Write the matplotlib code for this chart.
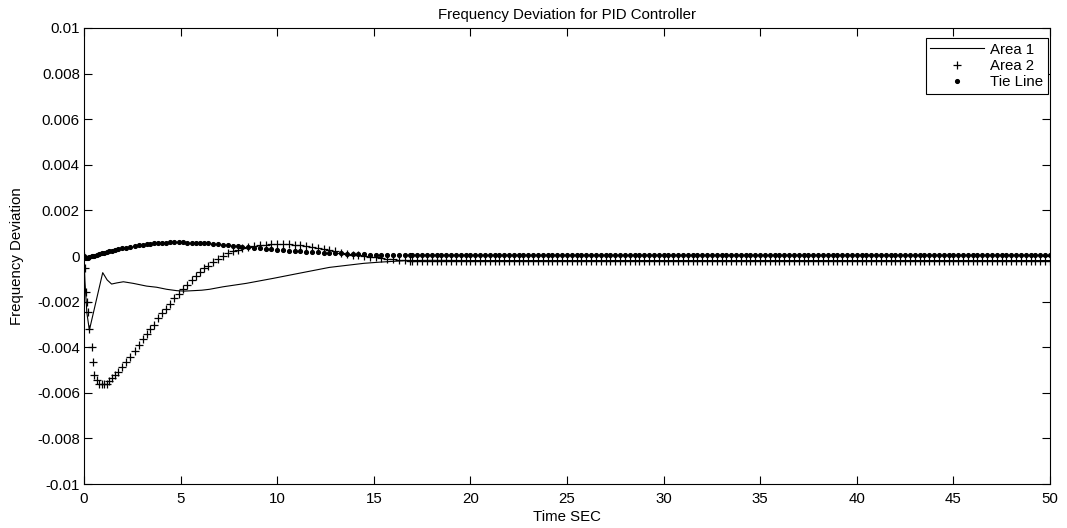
import numpy as np
import matplotlib
matplotlib.use("Agg")
import matplotlib.pyplot as plt

plt.rcParams['font.family'] = ['Liberation Sans', 'DejaVu Sans']
FS = 10.8

# Area 1 (solid line)
t_area1 = [0, 0.05, 0.15, 0.28, 0.97, 1.2, 1.43, 1.7, 2.04, 2.55, 3.24, 3.76,
           4.28, 4.8, 5.2, 5.66, 6.1, 6.5, 7.2, 8.4, 9.8, 11.0, 12.7, 14.5,
           15.3, 16.7, 18.0, 20.0, 25.0, 30.0, 35.0, 40.0, 45.0, 50.0]
v_area1 = [0, -0.0011, -0.0025, -0.00325, -0.00073, -0.00105, -0.00123, -0.00118,
           -0.00113, -0.0012, -0.00132, -0.00137, -0.00146, -0.00152, -0.00154,
           -0.00152, -0.0015, -0.00146, -0.00135, -0.0012, -0.00098, -0.00078,
           -0.0005, -0.00032, -0.00027, -0.0002, -0.00019, -0.0002, -0.0002,
           -0.0002, -0.0002, -0.0002, -0.0002, -0.0002]

# simulation samples shared by Area 2 and Tie Line markers
t_sim = [0.0, 0.05, 0.10, 0.15, 0.20, 0.28, 0.40, 0.45, 0.53, 0.66, 0.78, 0.91,
         1.04, 1.17, 1.31, 1.47, 1.60, 1.78, 1.95, 2.17, 2.38, 2.64, 2.86, 3.07,
         3.24, 3.42, 3.62, 3.85, 4.05, 4.24, 4.45, 4.68, 4.92, 5.14, 5.35, 5.57,
         5.80, 6.00, 6.21, 6.43, 6.70, 6.95, 7.20, 7.45, 7.70, 7.95, 8.20, 8.50,
         8.80, 9.10, 9.40, 9.70, 10.0, 10.3, 10.6, 10.9, 11.2, 11.5, 11.8, 12.1,
         12.4, 12.7, 13.0, 13.3, 13.6, 13.9, 14.2, 14.5, 14.8, 15.1, 15.4, 15.7,
         16.0, 16.3, 16.6, 16.9]
v_area2 = [0.0, -0.00054, -0.00157, -0.0020, -0.00244, -0.0032, -0.0040, -0.00466,
           -0.0052, -0.00544, -0.0056, -0.00561, -0.0056, -0.0056, -0.0055,
           -0.00537, -0.0052, -0.00507, -0.00485, -0.00463, -0.00444, -0.00415,
           -0.0039, -0.00366, -0.00342, -0.0032, -0.00303, -0.00273, -0.00251,
           -0.00234, -0.0021, -0.00186, -0.00167, -0.00146, -0.00127, -0.00105,
           -0.00086, -0.00069, -0.00054, -0.00044, -0.00028, -0.00012, 0.0,
           0.00012, 0.0002, 0.00028, 0.00034, 0.0004, 0.00044, 0.00048, 0.0005,
           0.00052, 0.00053, 0.00053, 0.00052, 0.0005, 0.00047, 0.00043, 0.00038,
           0.00034, 0.0003, 0.00025, 0.0002, 0.00015, 0.0001, 0.00006, 0.00003,
           0.0, -0.00003, -0.00006, -0.00009, -0.00012, -0.00014, -0.00016,
           -0.00018, -0.0002]
v_tie = [0.0, -0.00008, -0.0001, -0.0001, -0.00008, -0.00006, -0.00002, 0.0,
         0.00002, 0.00005, 0.00008, 0.00011, 0.00014, 0.00017, 0.0002, 0.00023,
         0.00026, 0.0003, 0.00033, 0.00037, 0.0004, 0.00044, 0.00047, 0.0005,
         0.00052, 0.00053, 0.00055, 0.00057, 0.00058, 0.00059, 0.0006, 0.0006,
         0.0006, 0.0006, 0.00059, 0.00059, 0.00058, 0.00057, 0.00056, 0.00055,
         0.00053, 0.00051, 0.00049, 0.00047, 0.00045, 0.00043, 0.00041, 0.00038,
         0.00035, 0.00033, 0.00031, 0.00029, 0.00027, 0.00025, 0.00023, 0.00021,
         0.0002, 0.00019, 0.00018, 0.00017, 0.00015, 0.00013, 0.00012, 0.00011,
         0.0001, 0.00009, 0.00008, 0.00007, 0.00006, 0.00006, 0.00005, 0.00005,
         0.00005, 0.00005, 0.00005, 0.00005]

# after ~17 s both settle to flat values
tail_step = 0.25
t_tail = np.arange(17.0, 50.01, tail_step)
area2_tail = -0.00022
tie_tail = 0.00005

t2 = np.concatenate([t_sim, t_tail])
a2 = np.concatenate([v_area2, np.full(len(t_tail), area2_tail)])
tie = np.concatenate([v_tie, np.full(len(t_tail), tie_tail)])

fig = plt.figure(figsize=(10.67, 5.28), dpi=100)
ax = fig.add_axes([0.0787, 0.0833, 0.9053, 0.8637])

ax.plot(t_area1, v_area1, color='black', linewidth=0.8, label='Area 1')
ax.plot(t2, a2, linestyle='none', marker='+', markersize=5.2,
        markeredgewidth=0.9, color='black', label='Area 2')
ax.plot(t2, tie, linestyle='none', marker='o', markersize=2.7,
        color='black', label='Tie Line')

ax.set_xlim(0, 50)
ax.set_ylim(-0.01, 0.01)
ax.set_xticks(np.arange(0, 51, 5))
yt = np.arange(-0.01, 0.0101, 0.002)
ax.set_yticks(yt)
ylabels = ['-0.01', '-0.008', '-0.006', '-0.004', '-0.002', '0',
           '0.002', '0.004', '0.006', '0.008', '0.01']
ax.set_yticklabels(ylabels)
ax.tick_params(direction='in', top=True, right=True, length=6, width=0.8,
               labelsize=FS)
ax.tick_params(axis='x', pad=6)
ax.tick_params(axis='y', pad=3)
for s in ax.spines.values():
    s.set_linewidth(0.8)

ax.set_title('Frequency Deviation for PID Controller', fontsize=FS, pad=6.5)
ax.set_xlabel('Time SEC', fontsize=FS, labelpad=2.5)
ax.set_ylabel('Frequency Deviation', fontsize=FS, labelpad=9)

leg = ax.legend(loc='upper right', bbox_to_anchor=(0.998, 0.978),
                fancybox=False, framealpha=1, edgecolor='black',
                handlelength=3.6, handletextpad=0.4, borderpad=0.3,
                labelspacing=0.15, fontsize=FS, borderaxespad=0)
leg.get_frame().set_linewidth(0.8)

fig.savefig('out.png', dpi=100)
